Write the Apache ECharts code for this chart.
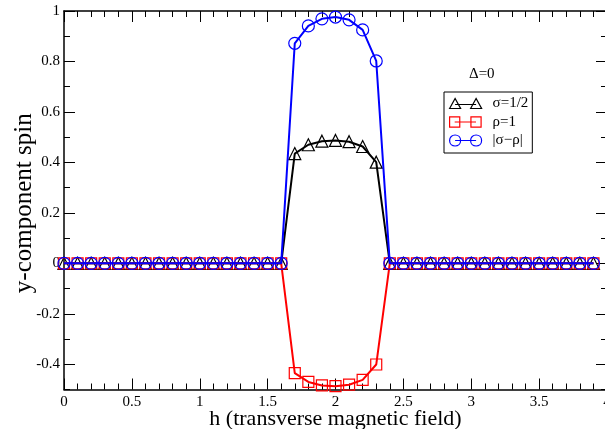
<!DOCTYPE html>
<html>
<head>
<meta charset="utf-8">
<style>
  html, body { margin: 0; padding: 0; background: #fff; }
  #chart { width: 605px; height: 429px; }
</style>
<script src="https://cdn.jsdelivr.net/npm/echarts@6/dist/echarts.min.js"></script>
</head>
<body>
<div id="chart"></div>
<script>
// Transverse field h
const hValues = [
  0.0, 0.1, 0.2, 0.3, 0.4, 0.5, 0.6, 0.7, 0.8, 0.9,
  1.0, 1.1, 1.2, 1.3, 1.4, 1.5, 1.6, 1.7, 1.8, 1.9,
  2.0, 2.1, 2.2, 2.3, 2.4, 2.5, 2.6, 2.7, 2.8, 2.9,
  3.0, 3.1, 3.2, 3.3, 3.4, 3.5, 3.6, 3.7, 3.8, 3.9
];

// y-component of spin, sigma = 1/2
const sigmaSpin = [
  0, 0, 0, 0, 0, 0, 0, 0, 0, 0,
  0, 0, 0, 0, 0, 0, 0, 0.435, 0.470, 0.484,
  0.487, 0.482, 0.463, 0.401, 0, 0, 0, 0, 0, 0,
  0, 0, 0, 0, 0, 0, 0, 0, 0, 0
];

// y-component of spin, rho = 1
const rhoSpin = [
  0, 0, 0, 0, 0, 0, 0, 0, 0, 0,
  0, 0, 0, 0, 0, 0, 0, -0.435, -0.470, -0.484,
  -0.487, -0.481, -0.462, -0.401, 0, 0, 0, 0, 0, 0,
  0, 0, 0, 0, 0, 0, 0, 0, 0, 0
];

// |sigma - rho|
const diffSpin = [
  0, 0, 0, 0, 0, 0, 0, 0, 0, 0,
  0, 0, 0, 0, 0, 0, 0, 0.872, 0.941, 0.969,
  0.976, 0.965, 0.925, 0.802, 0, 0, 0, 0, 0, 0,
  0, 0, 0, 0, 0, 0, 0, 0, 0, 0
];

const yMajorTicks = [-0.4, -0.2, 0, 0.2, 0.4, 0.6, 0.8, 1];

const seriesNames = ['σ=1/2', 'ρ=1', '|σ−ρ|'];
const seriesColors = ['#000000', '#ff0000', '#0000ff'];

const FONT = '"Liberation Serif", "Times New Roman", serif';

function pairs(ys) {
  return hValues.map((h, i) => [h, ys[i]]);
}

// Legend samples: marker - line - marker
const legendIcons = [
  'path://M0,11 L5.5,1 L11,11 Z M5.5,7 L26.5,7 M21,11 L26.5,1 L32,11 Z M32,6',
  'path://M0.5,1 L10.5,1 L10.5,11 L0.5,11 Z M5.5,6 L26.5,6 M21.5,1 L31.5,1 L31.5,11 L21.5,11 Z M32,6',
  'path://M0,6 C0,2.7 2.5,0.5 5.5,0.5 C8.5,0.5 11,2.7 11,6 C11,9.3 8.5,11.5 5.5,11.5 C2.5,11.5 0,9.3 0,6 Z M5.5,6 L26.5,6 M21,6 C21,2.7 23.5,0.5 26.5,0.5 C29.5,0.5 32,2.7 32,6 C32,9.3 29.5,11.5 26.5,11.5 C23.5,11.5 21,9.3 21,6 Z'
];

const gridBox = {
  left: 64, top: 11, width: 543, height: 378.5,
  containLabel: false,
  outerBoundsMode: 'none'
};

function xAxisDef(position, showLabels) {
  return {
    type: 'value', position: position, min: 0, max: 4, interval: 0.5,
    axisLine: { show: true, onZero: false, lineStyle: { color: '#000', width: 1.5 } },
    axisTick: { show: true, inside: true, length: 11, lineStyle: { color: '#000', width: 1 } },
    minorTick: { show: true, splitNumber: 5, length: 6, lineStyle: { color: '#000', width: 1 } },
    splitLine: { show: false },
    axisLabel: showLabels ? {
      show: true, margin: 5, color: '#000', fontFamily: FONT, fontSize: 15,
      hideOverlap: false
    } : { show: false },
    name: showLabels ? 'h (transverse magnetic field)' : '',
    nameLocation: 'middle', nameGap: 19, nameMoveOverlap: false,
    nameTextStyle: { color: '#000', fontFamily: FONT, fontSize: 22 }
  };
}

function yMajorDef(position, showLabels) {
  return {
    type: 'value', position: position, min: -0.5, max: 1, interval: 0.1,
    axisLine: { show: true, onZero: false, lineStyle: { color: '#000', width: 1.5 } },
    axisTick: { show: true, inside: true, length: 11, customValues: yMajorTicks,
                lineStyle: { color: '#000', width: 1 } },
    splitLine: { show: false },
    axisLabel: showLabels ? {
      show: true, margin: 4, color: '#000', fontFamily: FONT, fontSize: 15,
      customValues: yMajorTicks
    } : { show: false },
    name: showLabels ? 'y-component spin' : '',
    nameLocation: 'middle', nameGap: 27, nameRotate: 90, nameMoveOverlap: false,
    nameTextStyle: { color: '#000', fontFamily: FONT, fontSize: 25, padding: [0, 6, 0, 0] }
  };
}

function yMinorDef(position) {
  return {
    type: 'value', position: position, min: -0.5, max: 1, interval: 0.1,
    axisLine: { show: false, onZero: false },
    axisTick: { show: true, inside: true, length: 6, lineStyle: { color: '#000', width: 1 } },
    splitLine: { show: false },
    axisLabel: { show: false }
  };
}

function lineSeries(idx, ys, symbol, size) {
  return {
    name: seriesNames[idx],
    type: 'line',
    xAxisIndex: 0, yAxisIndex: 0,
    data: pairs(ys),
    symbol: symbol,
    symbolSize: size,
    showAllSymbol: true,
    lineStyle: { color: seriesColors[idx], width: 2 },
    itemStyle: { color: 'rgba(0,0,0,0)', borderColor: seriesColors[idx], borderWidth: 1.2 },
    emphasis: { disabled: true },
    animation: false,
    z: 2 + idx
  };
}

const chart = echarts.init(document.getElementById('chart'), null, { renderer: 'canvas' });

chart.setOption({
  animation: false,
  backgroundColor: '#ffffff',
  title: {
    text: 'Δ=0', left: 469, top: 67, padding: 0,
    textStyle: { color: '#000', fontFamily: FONT, fontSize: 15, fontWeight: 'normal' }
  },
  legend: {
    orient: 'vertical',
    left: 444, top: 92,
    padding: [4, 4, 5, 5],
    itemWidth: 32, itemHeight: 12, itemGap: 3.5,
    borderColor: '#000', borderWidth: 1, backgroundColor: '#fff',
    selectedMode: false,
    textStyle: { color: '#000', fontFamily: FONT, fontSize: 15, lineHeight: 15, padding: [0, 0, 0, 6] },
    data: seriesNames.map((n, i) => ({
      name: n,
      icon: legendIcons[i],
      itemStyle: { color: 'rgba(0,0,0,0)', borderColor: seriesColors[i], borderWidth: 1.2 }
    }))
  },
  grid: gridBox,
  xAxis: [xAxisDef('bottom', true), xAxisDef('top', false)],
  yAxis: [yMajorDef('left', true), yMinorDef('left'), yMajorDef('right', false), yMinorDef('right')],
  series: [
    lineSeries(0, sigmaSpin, 'triangle', 12),
    lineSeries(1, rhoSpin, 'rect', 11),
    lineSeries(2, diffSpin, 'circle', 12)
  ]
});
</script>
</body>
</html>
